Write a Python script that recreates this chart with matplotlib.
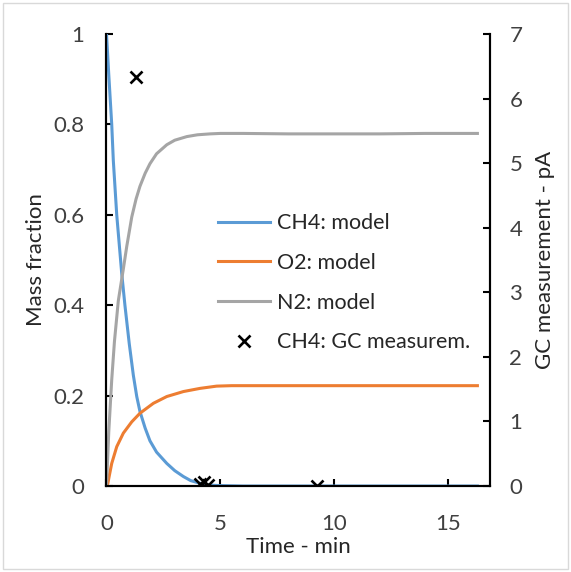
import numpy as np
import matplotlib
matplotlib.use('Agg')
import matplotlib.pyplot as plt
from matplotlib.patches import Rectangle

plt.rcParams['font.family'] = ['Lato', 'DejaVu Sans']

# model curves (time in min, mass fraction)
t_ch4 = [0, 0.1, 0.23, 0.3, 0.45, 0.67, 0.81, 1.0, 1.18, 1.33, 1.47, 1.7, 1.91, 2.2,
         2.65, 3.0, 3.38, 3.7, 4.11, 4.5, 5.0, 6.0, 8.0, 10.0, 12.0, 14.0, 16.3]
ch4_model = [1.0, 0.91, 0.80, 0.72, 0.60, 0.47, 0.40, 0.315, 0.245, 0.198, 0.165, 0.128, 0.10, 0.075,
             0.05, 0.034, 0.021, 0.012, 0.006, 0.002, 0.001, 0, 0, 0, 0, 0, 0]

t_o2 = [0, 0.06, 0.12, 0.23, 0.45, 0.74, 1.11, 1.47, 2.06, 2.65, 3.38, 4.11, 4.84, 5.5,
        6.0, 8.0, 10.0, 12.0, 14.0, 16.3]
o2_model = [0, 0.006, 0.022, 0.05, 0.087, 0.117, 0.142, 0.161, 0.183, 0.198, 0.209, 0.216, 0.221, 0.222,
            0.222, 0.222, 0.222, 0.222, 0.222, 0.222]

t_n2 = [0, 0.1, 0.23, 0.35, 0.52, 0.74, 0.89, 1.11, 1.3, 1.47, 1.7, 1.91, 2.2, 2.65,
        3.0, 3.53, 4.0, 4.55, 5.0, 6.0, 8.0, 10.0, 12.0, 14.0, 16.3]
n2_model = [0, 0.12, 0.235, 0.32, 0.41, 0.48, 0.53, 0.595, 0.635, 0.663, 0.692, 0.713, 0.735, 0.755,
            0.765, 0.773, 0.777, 0.779, 0.78, 0.78, 0.779, 0.779, 0.779, 0.78, 0.78]

# GC measurements (right axis, pA)
t_gc = [1.3, 4.1, 4.3, 4.45, 9.25]
ch4_gc = [6.33, 0.03, 0.06, 0.02, 0.0]

fig = plt.figure(figsize=(5.71, 5.72), dpi=100)
ax = fig.add_axes([0.1865, 0.1503, 0.6715, 0.7903])
ax2 = ax.twinx()

l1, = ax.plot(t_ch4, ch4_model, color='#5B9BD5', lw=2.2, label='CH4: model')
l2, = ax.plot(t_o2, o2_model, color='#ED7D31', lw=2.2, label='O2: model')
l3, = ax.plot(t_n2, n2_model, color='#A5A5A5', lw=2.2, label='N2: model')
l4, = ax2.plot(t_gc, ch4_gc, ls='none', marker='x', color='black', ms=8.5, mew=1.9,
               label='CH4: GC measurem.')

ax.set_xlim(0, 16.85)
ax.set_ylim(0, 1)
ax2.set_ylim(0, 7)
ax.set_xticks([0, 5, 10, 15])
ax.set_yticks([0, 0.2, 0.4, 0.6, 0.8, 1])
ax.set_yticklabels(['0', '0.2', '0.4', '0.6', '0.8', '1'])
ax2.set_yticks(range(8))

for a in (ax, ax2):
    a.spines['top'].set_visible(False)
    for s in a.spines.values():
        s.set_linewidth(1.5)
ax.tick_params(direction='in', length=5, width=1.5, labelsize=16, labelcolor='#404040')
ax.tick_params(axis='y', pad=16)
ax.tick_params(axis='x', pad=20)
ax2.tick_params(direction='in', length=5, width=1.5, labelsize=16, labelcolor='#404040', pad=14)

ax.set_xlabel('Time - min', fontsize=16, color='#262626', labelpad=2)
ax.set_ylabel('Mass fraction', fontsize=16, color='#262626', labelpad=5)
ax2.set_ylabel('GC measurement - pA', fontsize=16, color='#262626', labelpad=9)

ax2.legend([l1, l2, l3, l4], [h.get_label() for h in (l1, l2, l3, l4)],
           loc='upper left', bbox_to_anchor=(0.239, 0.646), frameon=False,
           fontsize=15.5, handlelength=2.45, handletextpad=0.3, labelspacing=0.91,
           labelcolor='#262626')

fig.patches.append(Rectangle((0.005, 0.005), 0.99, 0.99, transform=fig.transFigure,
                             fill=False, edgecolor='#D9D9D9', lw=1))

fig.savefig('out.png', dpi=100)
